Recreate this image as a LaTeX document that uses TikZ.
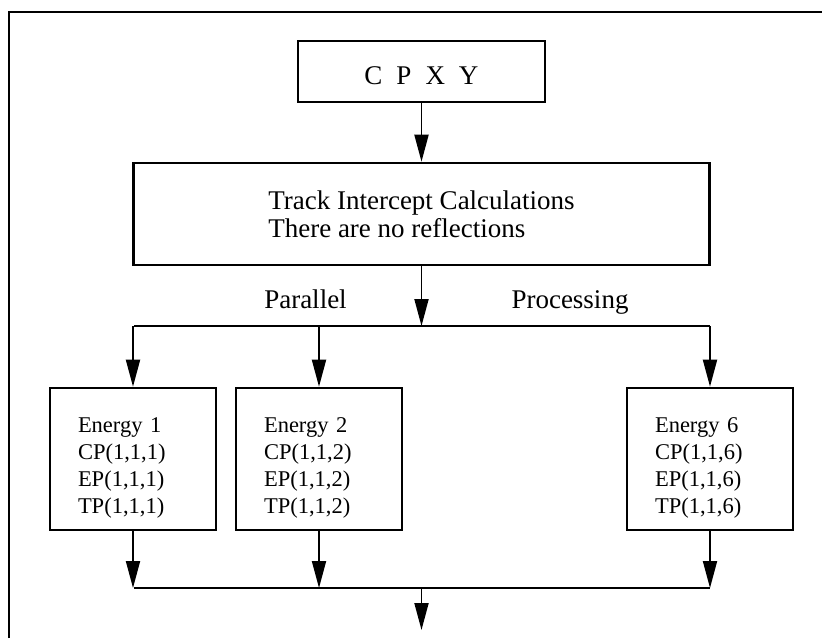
\documentclass[tikz,border=0pt]{standalone}
\usepackage{fontspec}
\setmainfont{Liberation Serif}
\usetikzlibrary{arrows.meta}
\begin{document}
\begin{tikzpicture}[x=1pt,y=-1pt,
  box/.style={draw,line width=2.6pt,inner sep=0pt},
  big/.style={font=\fontsize{27}{28}\selectfont},
  small/.style={font=\fontsize{22.5}{27}\selectfont},
  ebox/.style={box,minimum width=166pt,minimum height=142pt},
  etext/.style={small,align=left,text width=110pt,inner sep=0pt},
  wire/.style={line width=1.9pt},
  arr/.style={wire,-{Triangle[length=27pt,width=14pt]}}]
\useasboundingbox (0,0) rectangle (822,638);
% outer frame (open on the right and bottom)
\draw[line width=2pt] (9,638) -- (9,12) -- (822,12);
% top boxes
\node[box,big,minimum width=247pt,minimum height=61pt,text height=26pt,text depth=0pt] (cpxy) at (421.5,71.5)
  {C\hspace{14pt}P\hspace{14pt}X\hspace{14pt}Y};
\node[box,big,align=left,minimum width=576pt,minimum height=102pt] (track) at (421.5,214)
  {Track Intercept Calculations\\There are no reflections};
\draw[arr] (cpxy.south) -- (track.north);
% labels beside the fan-out
\node[big,anchor=base] (par) at (305.5,308) {Parallel};
\node[big,anchor=base] (proc) at (570,308) {Processing};
% energy boxes
\node[ebox] (e1) at (133,459) {};
\node[ebox] (e2) at (319,459) {};
\node[ebox] (e6) at (710,459) {};
\node[etext] (t1) at ([yshift=-9pt]e1.center) {Energy 1\\CP(1,1,1)\\EP(1,1,1)\\TP(1,1,1)};
\node[etext] (t2) at ([yshift=-9pt]e2.center) {Energy 2\\CP(1,1,2)\\EP(1,1,2)\\TP(1,1,2)};
\node[etext] (t6) at ([yshift=-9pt]e6.center) {Energy 6\\CP(1,1,6)\\EP(1,1,6)\\TP(1,1,6)};
% fan-out bus
\coordinate (bt) at (421.5,326);
\coordinate (bl) at (134,326);
\coordinate (br) at (710,326);
\draw[arr] (track.south) -- (bt);
\draw[wire] (bl) -- (br);
\draw[arr] (e1.north |- bt) -- (e1.north);
\draw[arr] (e2.north |- bt) -- (e2.north);
\draw[arr] (e6.north |- bt) -- (e6.north);
% fan-in bus
\coordinate (cl) at (134,588);
\coordinate (cr) at (710,588);
\coordinate (cm) at (421.5,588);
\coordinate (out) at (421.5,630);
\draw[arr] (e1.south) -- (e1.south |- cl);
\draw[arr] (e2.south) -- (e2.south |- cl);
\draw[arr] (e6.south) -- (e6.south |- cl);
\draw[wire] (cl) -- (cr);
\draw[arr] (cm) -- (out);
\end{tikzpicture}
\end{document}
